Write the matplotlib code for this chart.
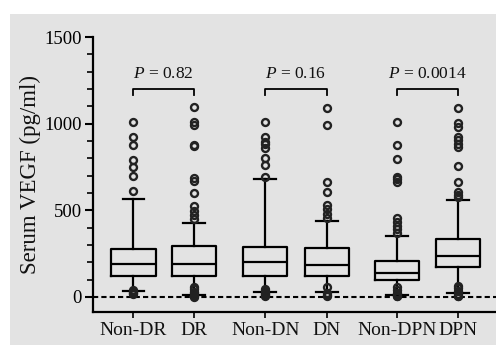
import matplotlib
matplotlib.use("Agg")
import matplotlib.pyplot as plt
import matplotlib.transforms as mtransforms
from matplotlib.patches import Rectangle
from matplotlib.ticker import MultipleLocator

plt.rcParams['font.family'] = 'Liberation Serif'
plt.rcParams['mathtext.fontset'] = 'custom'
plt.rcParams['mathtext.it'] = 'Liberation Serif:italic'
plt.rcParams['mathtext.rm'] = 'Liberation Serif'

# groups and box statistics (pg/ml)
labels = ["Non-DR", "DR", "Non-DN", "DN", "Non-DPN", "DPN"]
positions = [1, 2, 3.18, 4.2, 5.36, 6.37]
q1 = [123, 123, 121, 121, 98, 171]
med = [190, 190, 204, 185, 140, 237]
q3 = [277, 296, 287, 281, 209, 335]
whislo = [37, 12, 29, 29, 12, 25]
whishi = [565, 425, 679, 438, 354, 560]
fliers_hi = [
    [1008, 921, 875, 790, 752, 700, 613],
    [1095, 1008, 992, 877, 870, 687, 670, 598, 525, 498, 473, 450],
    [1010, 925, 896, 880, 858, 800, 762, 694],
    [1092, 992, 665, 608, 530, 505, 480, 455],
    [1010, 877, 794, 694, 680, 665, 455, 430, 410, 390, 370],
    [1092, 1002, 983, 925, 905, 885, 867, 756, 665, 608, 590, 579],
]
fliers_lo = [
    [15, 22, 30, 38],
    [2, 5, 10, 20, 30, 45, 60],
    [3, 10, 18, 25, 35, 45],
    [5, 12, 20, 56],
    [3, 8, 15, 25, 40, 55],
    [3, 8, 15, 35, 50, 65],
]
pairs = [(0, 1, "0.82"), (2, 3, "0.16"), (4, 5, "0.0014")]

fig = plt.figure(figsize=(4.96, 3.45), dpi=100)
fig.patch.set_facecolor('white')
fig.add_artist(Rectangle((10 / 496, 0), 1, (345 - 14) / 345, transform=fig.transFigure,
                         facecolor='#e3e3e3', edgecolor='none', zorder=-10))

ax = fig.add_axes([93 / 496, 33 / 345, 403 / 496, 275 / 345])
ax.set_facecolor('none')

stats = []
for i in range(len(labels)):
    stats.append(dict(q1=q1[i], med=med[i], q3=q3[i], whislo=whislo[i], whishi=whishi[i],
                      fliers=fliers_hi[i] + fliers_lo[i]))

lw = 1.6
ax.bxp(stats, positions=positions, widths=0.73, showfliers=True,
       boxprops=dict(color='black', linewidth=lw),
       medianprops=dict(color='black', linewidth=lw),
       whiskerprops=dict(color='black', linewidth=lw),
       capprops=dict(color='black', linewidth=lw),
       capwidths=0.36,
       flierprops=dict(marker='o', markerfacecolor='none', markeredgecolor='#222222',
                       markersize=5, markeredgewidth=1.7))

ax.axhline(0, color='black', linestyle=(0, (2.5, 1.5)), linewidth=1.5, zorder=0)

# significance brackets
for a, b, p in pairs:
    xa, xb = positions[a], positions[b]
    ax.plot([xa, xa, xb, xb], [1165, 1200, 1200, 1165], color='black', linewidth=1.3)
    ax.text((xa + xb) / 2, 1240, r"$P$ = " + p, ha='center', va='bottom', fontsize=12.5,
            color='#111111')

ax.set_xlim(0.33, 7.0)
ax.set_ylim(-87, 1500)
ax.set_xticks(positions)
ax.set_xticklabels(labels, fontsize=14, color='#111111')
# Non-DPN label sits a little left of its tick in the original
shift = mtransforms.ScaledTranslation(-5 / 100, 0, fig.dpi_scale_trans)
lab = ax.get_xticklabels()[4]
lab.set_transform(lab.get_transform() + shift)
ax.yaxis.set_major_locator(MultipleLocator(500))
ax.yaxis.set_minor_locator(MultipleLocator(100))
ax.tick_params(axis='y', which='major', length=6, width=1.5, labelsize=13.5, pad=2)
ax.tick_params(axis='y', which='minor', length=4, width=1.2)
ax.tick_params(axis='x', length=4, width=1.2, pad=3)
ax.set_ylabel("Serum VEGF (pg/ml)", fontsize=16.5, color='#111111')
ax.yaxis.set_label_coords(-0.13, 0.50)

for s in ['top', 'right']:
    ax.spines[s].set_visible(False)
ax.spines['left'].set_linewidth(1.6)
ax.spines['bottom'].set_linewidth(1.6)
ax.spines['left'].set_bounds(-87, 1500)

fig.savefig("out.png", dpi=100)
